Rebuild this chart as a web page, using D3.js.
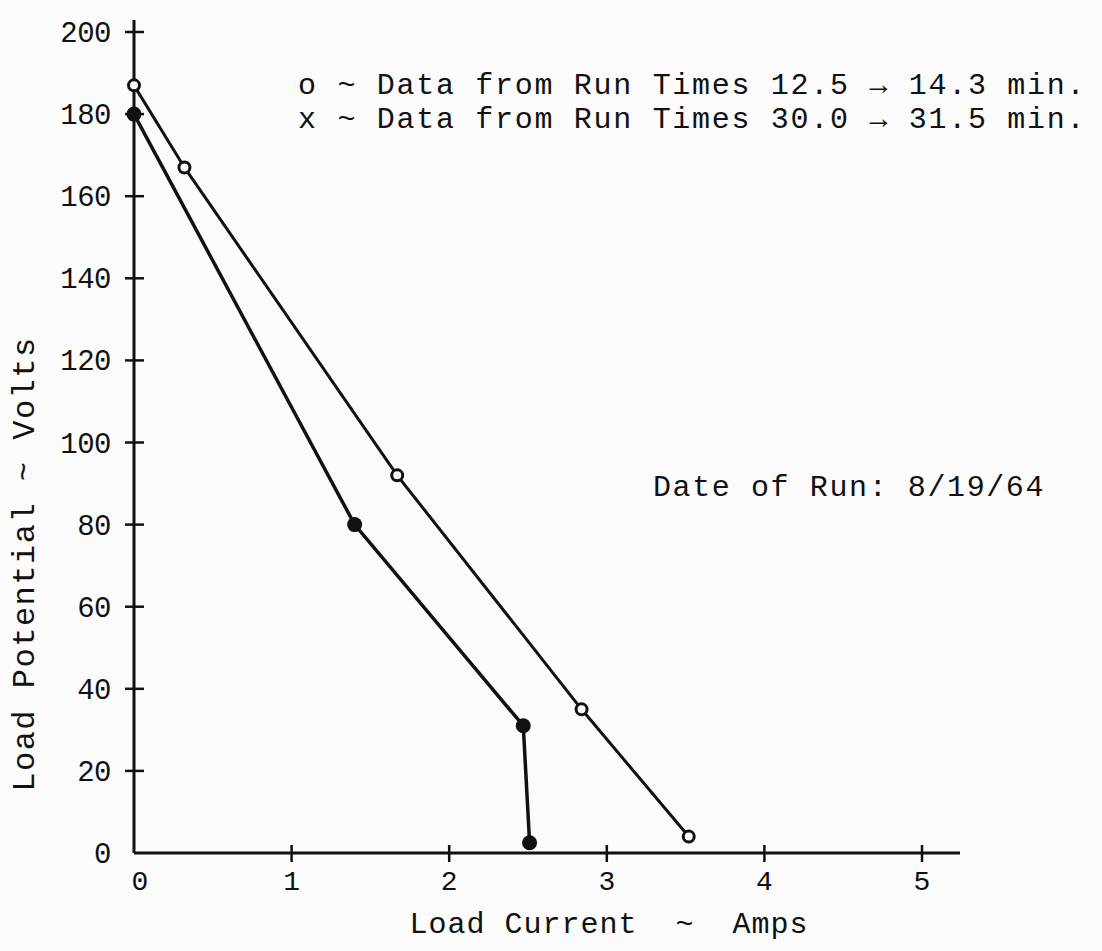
<!DOCTYPE html>
<html>
<head>
<meta charset="utf-8">
<script src="https://cdn.jsdelivr.net/npm/d3@7"></script>
<style>
  body{margin:0;background:#fbfbfb;}
  text{font-family:"Liberation Mono","DejaVu Sans Mono",monospace;fill:#111;}
</style>
</head>
<body>
<svg id="chart" width="1102" height="951"></svg>
<script>
// run 12.5 -> 14.3 min (open circles)
var openAmps  =[0, 0.32, 1.67, 2.84, 3.52];
var openVolts =[187, 167, 92, 35, 4];
// run 30.0 -> 31.5 min (filled)
var fillAmps  =[0, 1.40, 2.47, 2.51];
var fillVolts =[180, 80, 31, 2.5];

var xTicks=[0,1,2,3,4,5];
var yTicks=[0,20,40,60,80,100,120,140,160,180,200];
var legendLines=["o ~ Data from Run Times 12.5 \u2192 14.3 min.","x ~ Data from Run Times 30.0 \u2192 31.5 min."];
var dateNote="Date of Run: 8/19/64";

var svg=d3.select("#chart");

var x=d3.scaleLinear().domain([0,5]).range([134,922]);
var y=d3.scaleLinear().domain([0,200]).range([853,32]);

// axes (drawn by hand to get the crossed ticks of the original)
svg.append("line")
    .attr("x1",x(0)).attr("x2",x(0))
    .attr("y1",20).attr("y2",y(0))
    .attr("stroke","#111").attr("stroke-width",3);
svg.append("line")
    .attr("x1",x(0)).attr("x2",960)
    .attr("y1",y(0)).attr("y2",y(0))
    .attr("stroke","#111").attr("stroke-width",3);

svg.selectAll(".ytick").data(yTicks.filter(function(d){return d>0;}))
    .enter().append("line")
    .attr("class","ytick")
    .attr("x1",x(0)-9).attr("x2",x(0)+10)
    .attr("y1",function(d){return y(d);}).attr("y2",function(d){return y(d);})
    .attr("stroke","#111").attr("stroke-width",2.5);

svg.selectAll(".xtick").data(xTicks.filter(function(d){return d>0;}))
    .enter().append("line")
    .attr("class","xtick")
    .attr("x1",function(d){return x(d);}).attr("x2",function(d){return x(d);})
    .attr("y1",y(0)-8).attr("y2",y(0)+9)
    .attr("stroke","#111").attr("stroke-width",2.5);

svg.selectAll(".ylab").data(yTicks)
    .enter().append("text")
    .attr("class","ylab")
    .attr("x",111)
    .attr("y",function(d){return y(d)+10;})
    .style("font-size","29px")
    .style("text-anchor","end")
    .style("letter-spacing","-0.5px")
    .text(function(d){return d;});

svg.selectAll(".xlab").data(xTicks)
    .enter().append("text")
    .attr("class","xlab")
    .attr("x",function(d){return x(d)+(d==0?6:0);})
    .attr("y",890)
    .style("font-size","28px")
    .style("text-anchor","middle")
    .text(function(d){return d;});

// axis titles
svg.append("text")
    .attr("x",609).attr("y",933)
    .style("font-size","30px")
    .style("text-anchor","middle")
    .style("letter-spacing","1px")
    .attr("xml:space","preserve")
    .text("Load Current  ~  Amps");

svg.append("text")
    .attr("transform","translate(34,564) rotate(-90)")
    .style("font-size","32px")
    .style("letter-spacing","1.5px")
    .style("text-anchor","middle")
    .text("Load Potential ~ Volts");

// legend + note
svg.selectAll(".leg").data(legendLines)
    .enter().append("text")
    .attr("class","leg")
    .attr("x",298)
    .attr("y",function(d,i){return 94+i*34;})
    .style("font-size","30px")
    .style("letter-spacing","1.7px")
    .text(function(d){return d;});

svg.append("text")
    .attr("x",653).attr("y",496)
    .style("font-size","30px")
    .style("letter-spacing","1.6px")
    .text(dateNote);

// series
var line=d3.line()
    .x(function(d){return x(d[0]);})
    .y(function(d){return y(d[1]);});

var openPts=d3.zip(openAmps,openVolts);
var fillPts=d3.zip(fillAmps,fillVolts);

svg.append("path").datum(openPts)
    .attr("d",line).attr("fill","none")
    .attr("stroke","#111").attr("stroke-width",3);
svg.append("path").datum(fillPts)
    .attr("d",line).attr("fill","none")
    .attr("stroke","#111").attr("stroke-width",3.5);

svg.selectAll(".openPt").data(openPts)
    .enter().append("circle")
    .attr("class","openPt")
    .attr("cx",function(d){return x(d[0]);})
    .attr("cy",function(d){return y(d[1]);})
    .attr("r",5.5)
    .attr("fill","#fbfbfb")
    .attr("stroke","#111").attr("stroke-width",3);

svg.selectAll(".fillPt").data(fillPts)
    .enter().append("circle")
    .attr("class","fillPt")
    .attr("cx",function(d){return x(d[0]);})
    .attr("cy",function(d){return y(d[1]);})
    .attr("r",7.5)
    .attr("fill","#111");
</script>
</body>
</html>
